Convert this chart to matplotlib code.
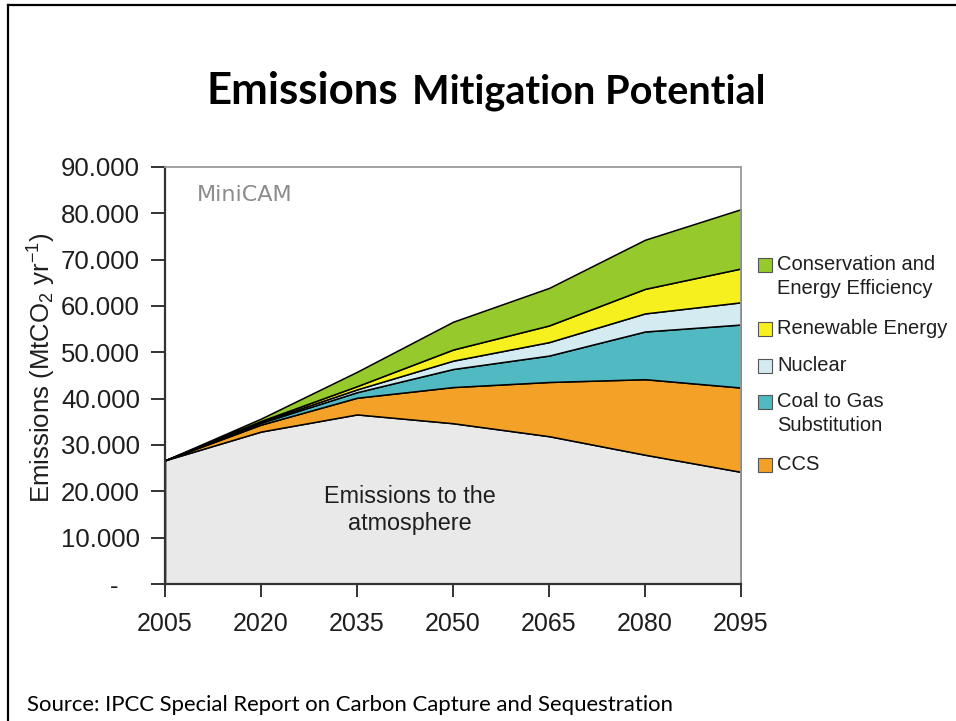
import matplotlib
matplotlib.use("Agg")
import matplotlib.pyplot as plt
from matplotlib.patches import Rectangle
from matplotlib.lines import Line2D
from matplotlib.ticker import FuncFormatter

# ---- data (MtCO2 per year) ----
years = [2005, 2020, 2035, 2050, 2065, 2080, 2095]
atmosphere = [26700, 32900, 36600, 34700, 31900, 27900, 24200]
ccs = [0, 1500, 3600, 7800, 11700, 16300, 18200]
coal_to_gas = [0, 400, 1200, 3900, 5700, 10300, 13600]
nuclear = [0, 200, 600, 1800, 2900, 3900, 4800]
renewable = [0, 200, 700, 2400, 3600, 5300, 7300]
conservation = [0, 500, 3100, 6000, 8100, 10600, 12800]

legend_labels = ["Conservation and\nEnergy Efficiency", "Renewable Energy",
                 "Nuclear", "Coal to Gas\nSubstitution", "CCS"]
y_ticks = [0, 10000, 20000, 30000, 40000, 50000, 60000, 70000, 80000, 90000]

c_atm = "#e9e9e9"
c_ccs = "#f4a227"
c_coal = "#50b9c1"
c_nuc = "#d5ebf2"
c_ren = "#f5f01e"
c_con = "#96c92c"

plt.rcParams["font.family"] = ["Liberation Sans", "DejaVu Sans"]
plt.rcParams["mathtext.default"] = "regular"

W, H = 956, 721
fig = plt.figure(figsize=(W / 100, H / 100), dpi=100)
fig.patch.set_facecolor("white")

# slide frame (top and left edges)
fig.add_artist(Line2D([8 / W, 1.0], [1 - 5 / H, 1 - 5 / H], color="black", lw=1.6))
fig.add_artist(Line2D([8 / W, 8 / W], [0.0, 1 - 5 / H], color="black", lw=1.6))

# title
fig.text(398 / W, 1 - 91 / H, "Emissions", ha="right", va="center",
         fontsize=31.5, fontweight="bold", family=["Lato", "DejaVu Sans"])
fig.text(412 / W, 1 - 92 / H, "Mitigation Potential", ha="left", va="center",
         fontsize=28.5, fontweight="bold", family=["Lato", "DejaVu Sans"])

ax = fig.add_axes([165 / W, 1 - 584 / H, (741 - 165) / W, (584 - 167) / H])
ax.stackplot(years, atmosphere, ccs, coal_to_gas, nuclear, renewable, conservation,
             colors=[c_atm, c_ccs, c_coal, c_nuc, c_ren, c_con],
             edgecolor="black", linewidth=1.1)

ax.set_xlim(years[0], years[-1])
ax.set_ylim(0, 90000)
ax.set_xticks(years)
ax.set_xticklabels([str(y) for y in years])
ax.set_yticks(y_ticks)


def fmt(v, pos):
    if v == 0:
        return "-   "
    return f"{int(v):,}".replace(",", ".")


ax.yaxis.set_major_formatter(FuncFormatter(fmt))
ax.tick_params(axis="y", direction="out", length=10, width=1.4, color="#333333",
               labelsize=18.5, pad=8, labelcolor="#1e1e1e")
ax.tick_params(axis="x", direction="out", length=9, width=1.4, color="#333333",
               labelsize=18, pad=11, labelcolor="#1e1e1e")

for s in ("left", "bottom"):
    ax.spines[s].set_color("#333333")
    ax.spines[s].set_linewidth(1.6)
for s in ("top", "right"):
    ax.spines[s].set_color("#9a9a9a")
    ax.spines[s].set_linewidth(1.3)

ax.set_ylabel("Emissions (MtCO$_2$ yr$^{-1}$)", fontsize=18.5, color="#1e1e1e")
ax.yaxis.set_label_coords(-(165 - 58) / (741 - 165), 0.519)

ax.text(0.055, 0.932, "MiniCAM", transform=ax.transAxes, fontsize=16,
        color="#8c8c8c", family=["DejaVu Sans"], ha="left", va="center")
ax.text(0.425, 0.177, "Emissions to the\natmosphere", transform=ax.transAxes,
        fontsize=16.8, color="#1e1e1e", ha="center", va="center", linespacing=1.25)

# legend
leg_colors = [c_con, c_ren, c_nuc, c_coal, c_ccs]
leg_y = [265, 329, 366, 402, 465]
for col, lab, yy in zip(leg_colors, legend_labels, leg_y):
    fig.add_artist(Rectangle((758 / W, 1 - (yy + 7) / H), 14 / W, 14 / H,
                             facecolor=col, edgecolor="#555555", lw=0.8))
    fig.text(777 / W, 1 - (yy - 10) / H, lab, fontsize=14.5, color="#1e1e1e",
             ha="left", va="top", linespacing=1.35)

fig.text(27 / W, 1 - 705 / H, "Source: IPCC Special Report on Carbon Capture and Sequestration",
         fontsize=15.9, ha="left", va="center", family=["Lato", "DejaVu Sans"])

fig.savefig("out.png", dpi=100)
